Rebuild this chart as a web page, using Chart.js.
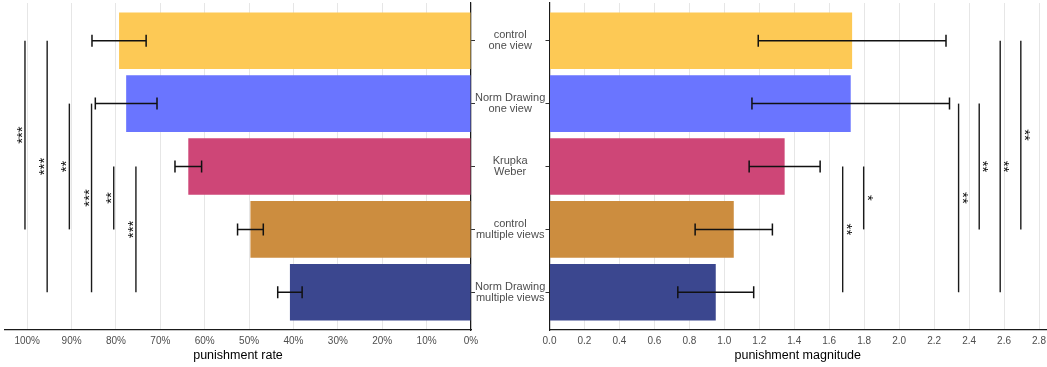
<!DOCTYPE html>
<html>
<head>
<meta charset="utf-8">
<script src="https://cdn.jsdelivr.net/npm/chart.js@4"></script>
<style>
  html, body { margin: 0; padding: 0; background: #fff; }
  #wrap { position: relative; width: 1047px; height: 367px; overflow: hidden; }
  .pane { position: absolute; top: 0; }
  #rateBox { left: 0; width: 549px; height: 367px; }
  #magBox { left: 540px; width: 507px; height: 367px; }
</style>
</head>
<body>
<div id="wrap">
  <div class="pane" id="rateBox"><canvas id="rate" width="549" height="367"></canvas></div>
  <div class="pane" id="magBox"><canvas id="mag" width="507" height="367"></canvas></div>
</div>
<script>
// Conditions, top to bottom
const conditions = [
  ['control', 'one view'],
  ['Norm Drawing', 'one view'],
  ['Krupka', 'Weber'],
  ['control', 'multiple views'],
  ['Norm Drawing', 'multiple views']
];
const barColors = ['#FDC955', '#6A75FF', '#CE4677', '#CC8D3F', '#3B478F'];

// Punishment rate (share) with error half-widths
const rateMean = [0.793, 0.777, 0.637, 0.497, 0.408];
const rateErr  = [0.061, 0.0695, 0.030, 0.029, 0.0275];

// Punishment magnitude with error half-widths
const magMean = [1.731, 1.723, 1.345, 1.054, 0.951];
const magErr  = [0.537, 0.565, 0.203, 0.221, 0.217];

// Axis tick values
const rateTicks = [0, 0.1, 0.2, 0.3, 0.4, 0.5, 0.6, 0.7, 0.8, 0.9, 1.0];
const magTicks  = [0, 0.2, 0.4, 0.6, 0.8, 1.0, 1.2, 1.4, 1.6, 1.8, 2.0, 2.2, 2.4, 2.6, 2.8];

// Pairwise comparisons: [from condition, to condition, bracket position, label]
const rateSig = [
  [1, 4, 1.005, '***'],
  [1, 5, 0.955, '***'],
  [2, 4, 0.905, '**'],
  [2, 5, 0.855, '***'],
  [3, 4, 0.805, '**'],
  [3, 5, 0.755, '***']
];
const magSig = [
  [3, 5, 1.677, '**'],
  [3, 4, 1.797, '*'],
  [2, 5, 2.340, '**'],
  [2, 4, 2.458, '**'],
  [1, 5, 2.578, '**'],
  [1, 4, 2.696, '**']
];

const FONT = '"Liberation Sans", Arial, sans-serif';
Chart.defaults.font.family = FONT;
Chart.defaults.animation = false;

// Horizontal error bars with end caps
const errorBarPlugin = {
  id: 'errorBars',
  afterDatasetsDraw(chart, args, opts) {
    const { ctx, scales: { x, y } } = chart;
    const mean = chart.data.datasets[0].data;
    ctx.save();
    ctx.strokeStyle = '#111';
    ctx.lineWidth = 1.5;
    mean.forEach((d, i) => {
      const e = opts.err[i];
      const x1 = x.getPixelForValue(d.x - e);
      const x2 = x.getPixelForValue(d.x + e);
      const py = y.getPixelForValue(d.y);
      ctx.beginPath();
      ctx.moveTo(x1, py); ctx.lineTo(x2, py);
      ctx.moveTo(x1, py - 6); ctx.lineTo(x1, py + 6);
      ctx.moveTo(x2, py - 6); ctx.lineTo(x2, py + 6);
      ctx.stroke();
    });
    ctx.restore();
  }
};

// Significance brackets with rotated star labels
const bracketPlugin = {
  id: 'sigBrackets',
  afterDatasetsDraw(chart, args, opts) {
    const { ctx, scales: { x, y } } = chart;
    ctx.save();
    ctx.strokeStyle = '#1a1a1a';
    ctx.fillStyle = '#111';
    ctx.lineWidth = 1.4;
    ctx.font = '15px ' + FONT;
    ctx.textAlign = 'center';
    ctx.textBaseline = 'alphabetic';
    opts.items.forEach(([a, b, pos, label]) => {
      const px = x.getPixelForValue(pos);
      const y1 = y.getPixelForValue(a);
      const y2 = y.getPixelForValue(b);
      ctx.beginPath();
      ctx.moveTo(px, y1); ctx.lineTo(px, y2);
      ctx.stroke();
      const dir = Math.sign(x.getPixelForValue(pos + 0.01) - px);
      const m = ctx.measureText(label);
      const mid = (m.actualBoundingBoxAscent - m.actualBoundingBoxDescent) / 2;
      ctx.save();
      ctx.translate(px + dir * opts.offset, (y1 + y2) / 2);
      ctx.rotate(dir < 0 ? -Math.PI / 2 : Math.PI / 2);
      ctx.fillText(label, 0, mid);
      ctx.restore();
    });
    ctx.restore();
  }
};

const tickFont = { size: 10, family: FONT };
const titleFont = { size: 12.5, family: FONT };

function indexAxis(position, showLabels, width) {
  return {
    type: 'linear',
    position,
    reverse: true,
    offset: false,
    min: 0.4,
    max: 5.6,
    z: 1,
    afterBuildTicks: s => { s.ticks = conditions.map((_, i) => ({ value: i + 1 })); },
    afterFit: s => { s.width = width; s.paddingTop = 0; s.paddingBottom = 0; },
    ticks: {
      autoSkip: false,
      padding: 0,
      crossAlign: 'center',
      color: '#4d4d4d',
      font: { size: 11, family: FONT, lineHeight: 1.0 },
      callback: v => showLabels ? conditions[v - 1] : ''
    },
    grid: { offset: false, drawOnChartArea: false, drawTicks: true, tickLength: 4, color: '#333' },
    border: { display: true, color: '#1a1a1a', width: 1.2 }
  };
}

function valueAxis(opts) {
  return {
    type: 'linear',
    reverse: !!opts.reverse,
    min: 0,
    max: opts.max,
    afterBuildTicks: s => { s.ticks = opts.ticks.map(v => ({ value: v })); },
    afterFit: s => { s.height = 33; s.paddingLeft = 0; s.paddingRight = 0; },
    ticks: {
      autoSkip: false,
      maxRotation: 0,
      padding: 5,
      color: '#4d4d4d',
      font: tickFont,
      callback: opts.format
    },
    grid: { color: '#e6e6e6', lineWidth: 1, drawTicks: false },
    border: { display: true, color: '#1a1a1a', width: 1.2 },
    title: { display: true, text: opts.title, color: '#000', font: titleFont, padding: { top: 0, bottom: 0 } }
  };
}

function barData(values) {
  return {
    datasets: [{
      data: values.map((v, i) => ({ x: v, y: i + 1 })),
      backgroundColor: barColors,
      borderWidth: 0,
      barPercentage: 0.9,
      categoryPercentage: 1.0
    }]
  };
}

new Chart(document.getElementById('rate'), {
  type: 'bar',
  data: barData(rateMean),
  plugins: [errorBarPlugin, bracketPlugin],
  options: {
    indexAxis: 'y',
    responsive: false,
    devicePixelRatio: 1,
    layout: { padding: { left: 5, top: 3, right: 0, bottom: 4 } },
    plugins: {
      legend: { display: false },
      tooltip: { enabled: false },
      errorBars: { err: rateErr },
      sigBrackets: { items: rateSig, offset: 5 }
    },
    scales: {
      x: valueAxis({
        reverse: true, max: 1.05, ticks: rateTicks, title: 'punishment rate',
        format: v => Math.round(v * 100) + '%'
      }),
      y: indexAxis('right', true, 78)
    }
  }
});

new Chart(document.getElementById('mag'), {
  type: 'bar',
  data: barData(magMean),
  plugins: [errorBarPlugin, bracketPlugin],
  options: {
    indexAxis: 'y',
    responsive: false,
    devicePixelRatio: 1,
    layout: { padding: { left: 0, top: 3, right: 1, bottom: 4 } },
    plugins: {
      legend: { display: false },
      tooltip: { enabled: false },
      errorBars: { err: magErr },
      sigBrackets: { items: magSig, offset: 6 }
    },
    scales: {
      x: valueAxis({
        max: 2.84, ticks: magTicks, title: 'punishment magnitude',
        format: v => Number(v).toFixed(1)
      }),
      y: indexAxis('left', false, 9.5)
    }
  }
});
</script>
</body>
</html>
